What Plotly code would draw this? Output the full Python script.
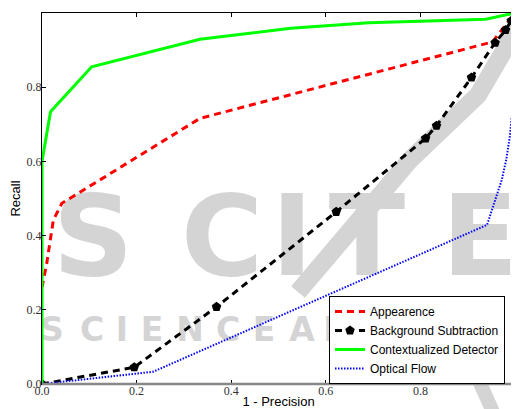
import plotly.graph_objects as go

# ---------------- data ----------------
series_names = ["Appearence", "Background Subtraction", "Contextualized Detector", "Optical Flow"]

appear_x = [0.0, 0.01, 0.024, 0.042, 0.334, 0.952, 1.0]
appear_y = [0.26, 0.325, 0.442, 0.487, 0.716, 0.922, 1.0]

bgsub_x = [0.0, 0.195, 0.369, 0.622, 0.811, 0.834, 0.908, 0.958, 0.980, 0.992]
bgsub_y = [0.0, 0.045, 0.208, 0.464, 0.662, 0.696, 0.826, 0.920, 0.954, 0.979]

context_x = [0.0, 0.0, 0.018, 0.105, 0.334, 0.526, 0.691, 0.938, 1.0]
context_y = [0.0, 0.6, 0.734, 0.855, 0.929, 0.959, 0.974, 0.983, 1.0]

flow_x = [0.0, 0.2, 0.235, 0.941, 0.958, 0.972, 0.982, 0.989, 0.994, 0.997, 1.0]
flow_y = [0.0, 0.029, 0.033, 0.429, 0.496, 0.550, 0.608, 0.667, 0.73, 0.775, 1.0]

tick_vals = [0.0, 0.2, 0.4, 0.6, 0.8, 1.0]
tick_text = ["0.0", "0.2", "0.4", "0.6", "0.8", "1.0"]

# ---------------- layout constants ----------------
OFF = 8                      # default page margin of the html body
WIN_W, WIN_H = 519, 409
W, H = WIN_W - OFF, WIN_H - OFF
PX0, PY0, PX1, PY1 = 42, 13, 515, 384   # plot area in window pixels
ML, MT = PX0 - OFF, PY0 - OFF
MR, MB = W - (PX1 - OFF), H - (PY1 - OFF)
PW, PH = PX1 - PX0, PY1 - PY0
WM = "#d4d4d4"


def pp(px, py):
    """window pixel -> paper coordinate"""
    return (px - PX0) / PW, (PY1 - py) / PH


fig = go.Figure()

fig.add_trace(go.Scatter(x=appear_x, y=appear_y, mode="lines", name=series_names[0],
                         line=dict(color="#ff0000", width=3, dash="7px,5px")))
fig.add_trace(go.Scatter(x=bgsub_x, y=bgsub_y, mode="lines+markers", name=series_names[1],
                         line=dict(color="#000000", width=3, dash="7px,5px"),
                         marker=dict(symbol="pentagon", size=10, color="#000000")))
fig.add_trace(go.Scatter(x=context_x, y=context_y, mode="lines", name=series_names[2],
                         line=dict(color="#00ff00", width=3)))
fig.add_trace(go.Scatter(x=flow_x, y=flow_y, mode="lines", name=series_names[3],
                         line=dict(color="#0000ff", width=2, dash="1.5px,1.5px")))

# ---------------- watermark (below the data) ----------------
shapes = []


def letter(ch, cx, cy, size):
    x0, y0 = pp(cx - size * 0.5, cy + size * 0.5)
    x1, y1 = pp(cx + size * 0.5, cy - size * 0.5)
    shapes.append(dict(type="rect", xref="paper", yref="paper", x0=x0, y0=y0, x1=x1, y1=y1,
                       line=dict(width=0), fillcolor="rgba(0,0,0,0)", layer="below",
                       label=dict(text=ch, textposition="middle center",
                                  font=dict(size=size, color=WM, family="DejaVu Sans",
                                            weight="bold"))))


for ch, cx in zip("SCITE", [93, 222, 292, 367, 480]):
    letter(ch, cx, 228, 112)

for ch, cx in zip("SCIENCE AND TEC", [52, 92, 122, 152, 190, 228, 264, 0, 302, 337, 370, 0, 412, 452, 492]):
    if ch != " ":
        letter(ch, cx, 327, 33)

swoosh = [(522, 20), (478, 95), (410, 160), (298, 292)]
path = "M " + " L ".join("{:.4f},{:.4f}".format(*pp(x, y)) for x, y in swoosh)
shapes.append(dict(type="path", xref="paper", yref="paper", path=path,
                   line=dict(color=WM, width=18), layer="below"))
vx0, vy0 = pp(463, 345)
vx1, vy1 = pp(493, 412)
shapes.append(dict(type="line", xref="paper", yref="paper", x0=vx0, y0=vy0, x1=vx1, y1=vy1,
                   line=dict(color=WM, width=14), layer="below"))

# bottom spine drawn grey like the reference
shapes.append(dict(type="line", xref="paper", yref="paper", x0=0, y0=0, x1=1, y1=0,
                   line=dict(color="#888888", width=2.5), layer="above"))

tickfont = dict(family="Liberation Serif", size=12, color="#333333")
titlefont = dict(family="Liberation Sans", size=13, color="#000000")

fig.update_layout(
    width=W, height=H,
    margin=dict(l=ML, r=MR, t=MT, b=MB, pad=0),
    paper_bgcolor="#ffffff",
    plot_bgcolor="rgba(0,0,0,0)",
    shapes=shapes,
    showlegend=True,
    legend=dict(x=pp(505, 0)[0], xanchor="right", y=pp(0, 384)[1], yanchor="bottom",
                bgcolor="#ffffff", bordercolor="#000000", borderwidth=1,
                font=dict(family="Liberation Sans", size=12, color="#000000"),
                itemwidth=30, tracegroupgap=0),
    xaxis=dict(range=[0, 1], tickvals=tick_vals, ticktext=tick_text, ticks="inside", ticklen=4,
               tickcolor="#000000", showline=True, linecolor="#000000", linewidth=1,
               mirror="ticks", showgrid=False, zeroline=False, tickfont=tickfont,
               ticklabelstandoff=-4,
               title=dict(text="1 - Precision", font=titlefont, standoff=7), automargin=False),
    yaxis=dict(range=[0, 1], tickvals=tick_vals, ticktext=tick_text, ticks="inside", ticklen=4,
               tickcolor="#000000", showline=True, linecolor="#000000", linewidth=1,
               mirror="ticks", showgrid=False, zeroline=False, tickfont=tickfont,
               ticklabelstandoff=-3,
               title=dict(text="Recall", font=titlefont, standoff=4), automargin=False),
)

fig.write_html("out.html")
